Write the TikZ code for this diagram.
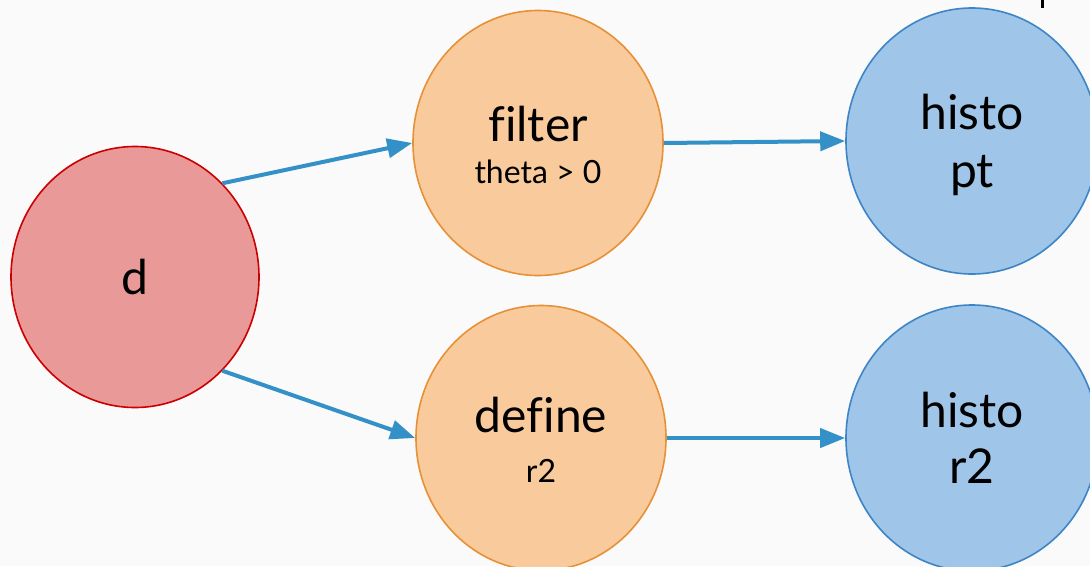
\documentclass[tikz,border=0pt]{standalone}
\usepackage{fontspec}
\setmainfont{Lato}[Ligatures={NoCommon}]
\usetikzlibrary{shapes.geometric,arrows.meta}
\definecolor{bgc}{HTML}{FAFAFA}
\definecolor{redfill}{HTML}{EA9999}
\definecolor{redline}{HTML}{CC0000}
\definecolor{orfill}{HTML}{F9CB9C}
\definecolor{orline}{HTML}{E69138}
\definecolor{blfill}{HTML}{9FC5E8}
\definecolor{blline}{HTML}{3D85C6}
\definecolor{edgec}{HTML}{3391C8}
\tikzset{
  op/.style={ellipse, inner sep=0pt, line width=1.6pt},
  srcnode/.style={op, fill=redfill, draw=redline, minimum width=248pt, minimum height=261pt},
  midnode/.style={op, fill=orfill, draw=orline, minimum width=250pt, minimum height=265pt},
  endnode/.style={op, fill=blfill, draw=blline, minimum width=252pt, minimum height=266pt},
  big/.style={anchor=base, inner sep=0pt, font=\fontsize{48}{53}\selectfont},
  small/.style={anchor=base, inner sep=0pt, font=\fontsize{32}{37}\selectfont},
  flow/.style={draw=edgec, line width=4pt, -{Triangle[length=25pt,width=19pt]}}
}
\begin{document}
\begin{tikzpicture}[x=1pt,y=-1pt]
  \fill[bgc] (0,0) rectangle (1090,566);
  \useasboundingbox (0,0) rectangle (1090,566);

  % operation nodes
  \node[srcnode] (d) at (135,277) {};
  \node[midnode] (filter) at (538,143) {};
  \node[midnode] (define) at (541,438) {};
  \node[endnode] (hpt) at (972,141) {};
  \node[endnode] (hr2) at (972,438) {};

  % node captions
  \node[big] (dtxt) at (135,294) {d};
  \node[big] (ftxt) at (538,141) {filter};
  \node[small] (fsub) at (538,183) {theta > 0};
  \node[big] (deftxt) at (541,432) {define};
  \node[small] (defsub) at (541,482) {r2};
  \node[big] (hpt1) at (972,129) {histo};
  \node[big] (hpt2) at (972,187) {pt};
  \node[big] (hr21) at (972,427) {histo};
  \node[big] (hr22) at (972,483) {r2};

  % clipped glyph at the upper edge
  \fill (1041,0) rectangle (1044,8);

  % data flow
  \draw[flow] (d.47) -- (filter.west);
  \draw[flow] (d.-47) -- (define.west);
  \draw[flow] (filter.east) -- (hpt.west);
  \draw[flow] (define.east) -- (hr2.west);
\end{tikzpicture}
\end{document}
